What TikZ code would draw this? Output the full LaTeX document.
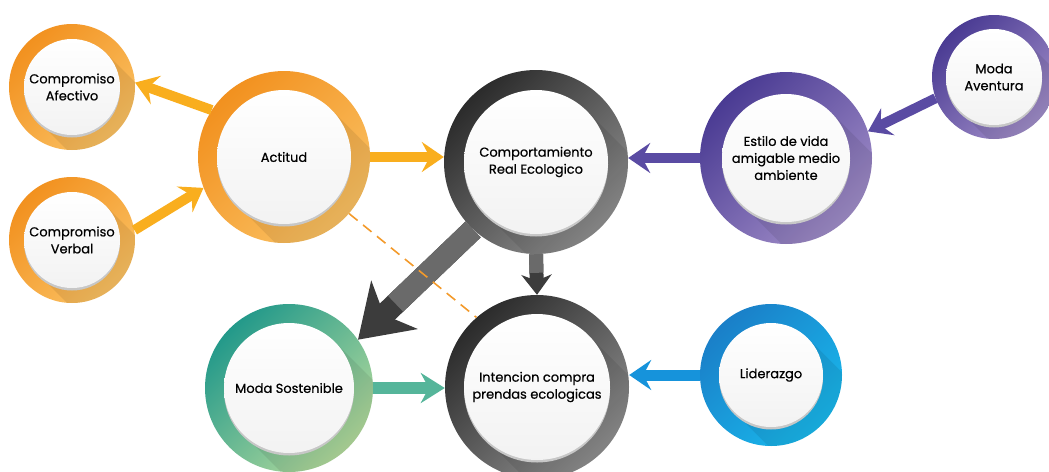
\documentclass[tikz,border=0pt]{standalone}
\usepackage{fontspec}
\setmainfont{Poppins}
\newfontfamily\labelfont{Poppins}[FakeBold=0.5]
\usetikzlibrary{arrows.meta,calc}
\definecolor{orA}{HTML}{F2911F}
\definecolor{orB}{HTML}{FAC163}
\definecolor{puA}{HTML}{4A3B93}
\definecolor{puB}{HTML}{A08DC8}
\definecolor{grA}{HTML}{2B2B2B}
\definecolor{grB}{HTML}{8E8E8E}
\definecolor{gnA}{HTML}{23998A}
\definecolor{gnB}{HTML}{B2DA9C}
\definecolor{blA}{HTML}{1A7FC8}
\definecolor{blB}{HTML}{19B8EC}
\definecolor{arOr}{HTML}{F9AE1E}
\definecolor{arPu}{HTML}{5A4BA3}
\definecolor{arGr}{HTML}{3C3C3C}
\definecolor{arGrS}{HTML}{6A6A6A}
\definecolor{arGn}{HTML}{55B59A}
\definecolor{arBl}{HTML}{1693DB}
\definecolor{dashOr}{HTML}{F39A2B}
\newcommand{\ringcircle}[8]{%
  \begin{scope}
    \clip (#2,#3) circle[radius=#4];
    \shade[left color=#6, right color=#7, shading angle=45] (#2,#3) circle[radius=#4];
    \fill[black, opacity=0.08] ($(#2,#3)+(0.707*#5,-0.707*#5)$) -- ++(250,250)
      -- ($(#2,#3)+(-0.707*#5,0.707*#5)+(250,250)$) -- ($(#2,#3)+(-0.707*#5,0.707*#5)$) -- cycle;
  \end{scope}
  \fill[black!22] (#2,#3+2.5) circle[radius=#5];
  \shade[top color=white, bottom color=black!5] (#2,#3) circle[radius=#5];
  \node[ringnode, minimum size={2*#4pt}] (#1) at (#2,#3) {#8};
}
\tikzset{
  ringnode/.style={circle, inner sep=0pt, align=center, font=\labelfont\fontsize{13}{17}\selectfont, text=black},
  orarrow/.style={draw=arOr, line width=10pt, -{Stealth[length=22pt, width=30pt, inset=8pt]}},
  puarrow/.style={draw=arPu, line width=10pt, -{Stealth[length=22pt, width=30pt, inset=8pt]}},
  gnarrow/.style={draw=arGn, line width=12pt, -{Stealth[length=24pt, width=30pt, inset=8pt]}},
  blarrow/.style={draw=arBl, line width=11pt, -{Stealth[length=22pt, width=30pt, inset=8pt]}},
  grarrow/.style={draw=arGr, line width=14pt, -{Stealth[length=20pt, width=30pt, inset=6pt]}},
  bigarrow/.style={draw=arGr, line width=22pt, -{Stealth[length=50pt, width=66pt, inset=14pt]}},
  shaftlight/.style={draw=arGrS, line width=#1},
  dashline/.style={draw=dashOr, line width=1.6pt, dash pattern=on 11pt off 7pt},
}
\begin{document}
\begin{tikzpicture}[x=1pt, y=-1pt]
\useasboundingbox (0,0) rectangle (1049,471);
\ringcircle{caf}{72}{87}{63}{48}{orA}{orB}{Compromiso\\Afectivo}
\ringcircle{cve}{72}{240}{63}{48}{orA}{orB}{Compromiso\\Verbal}
\ringcircle{act}{284}{157}{86}{67}{orA}{orB}{Actitud}
\ringcircle{comp}{536}{162}{92}{72}{grA}{grB}{Comportamiento\\Real Ecologico}
\ringcircle{est}{786}{158}{86}{64}{puA}{puB}{Estilo de vida\\amigable medio\\ambiente}
\ringcircle{ave}{994}{77}{62}{48}{puA}{puB}{Moda\\Aventura}
\ringcircle{sos}{289}{388}{84}{65}{gnA}{gnB}{Moda Sostenible}
\ringcircle{int}{537}{387}{92}{73}{grA}{grB}{Intencion compra\\prendas ecologicas}
\ringcircle{lid}{771}{375}{71}{52}{blA}{blB}{Liderazgo}
% connectors
\draw[orarrow] (act.147) -- (caf.4);
\draw[orarrow] (cve.9) -- (act.201);
\draw[orarrow] (act.east) -- (comp.west |- act.east);
\draw[puarrow] (est.west) -- (comp.east |- est.west);
\draw[puarrow] (ave.200) -- (est.18);
\draw[bigarrow] (comp.227) -- (sos.35);
\draw[shaftlight=22pt, shorten >=52pt] (comp.227) -- (sos.35);
\draw[grarrow] (comp.south) -- (int.north);
\draw[shaftlight=14pt, shorten >=22pt] (comp.south) -- (int.north);
\draw[gnarrow] (sos.east) -- (int.west |- sos.east);
\draw[blarrow] (lid.west) -- (int.east |- lid.west);
\draw[dashline] (act.-41) -- (int.131);
\end{tikzpicture}
\end{document}
